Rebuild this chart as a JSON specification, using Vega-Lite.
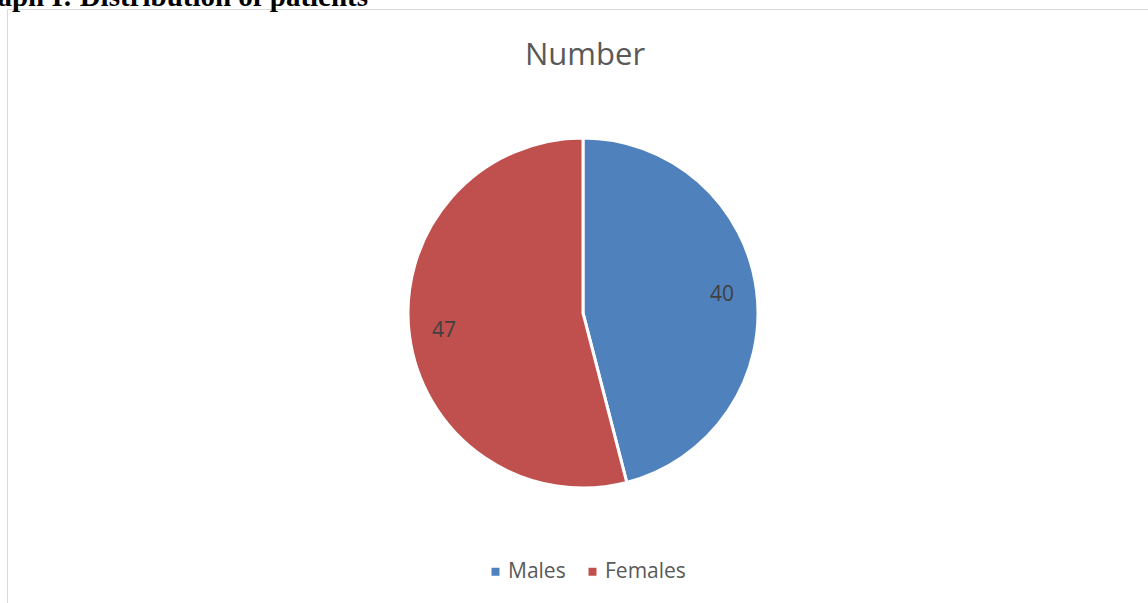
{
  "$schema": "https://vega.github.io/schema/vega-lite/v6.json",
  "autosize": "none",
  "padding": {"top": 9, "left": 7, "right": 0, "bottom": 0},
  "width": 1152,
  "height": 608,
  "background": "white",
  "view": {"stroke": "#d9d9d9", "strokeWidth": 1},
  "title": {
    "text": "Graph I: Distribution of patients",
    "font": "Liberation Serif",
    "fontSize": 29,
    "fontWeight": "bold",
    "color": "black",
    "anchor": "start",
    "frame": "group",
    "baseline": "alphabetic",
    "offset": -26,
    "dx": -45
  },
  "data": {
    "values": [
      {"sex": "Males", "count": 40},
      {"sex": "Females", "count": 47}
    ]
  },
  "encoding": {
    "theta": {"field": "count", "type": "quantitative", "stack": true},
    "order": {"field": "sex", "sort": "descending"}
  },
  "layer": [
    {
      "mark": {"type": "arc", "outerRadius": 175, "stroke": "white", "strokeWidth": 3},
      "encoding": {
        "color": {
          "field": "sex",
          "type": "nominal",
          "scale": {"domain": ["Males", "Females"], "range": ["#4F81BD", "#C0504D"]},
          "legend": {
            "title": "Number",
            "titleOrient": "top",
            "titleAnchor": "middle",
            "titleFont": "Open Sans",
            "titleFontSize": 31,
            "titleFontWeight": "normal",
            "titleColor": "#595959",
            "titleBaseline": "top",
            "titlePadding": 489,
            "titleLimit": 400,
            "orient": "none",
            "legendX": 478,
            "legendY": 32,
            "padding": 0,
            "direction": "horizontal",
            "symbolType": "square",
            "symbolSize": 64,
            "symbolStrokeWidth": 0,
            "labelFont": "Open Sans",
            "labelFontSize": 21,
            "labelColor": "#595959",
            "labelOffset": 2,
            "columnPadding": 16
          }
        }
      }
    },
    {
      "mark": {"type": "text", "radius": 140, "font": "Open Sans", "fontSize": 21, "color": "#404040"},
      "encoding": {
        "text": {"field": "count", "type": "quantitative"}
      }
    }
  ]
}
